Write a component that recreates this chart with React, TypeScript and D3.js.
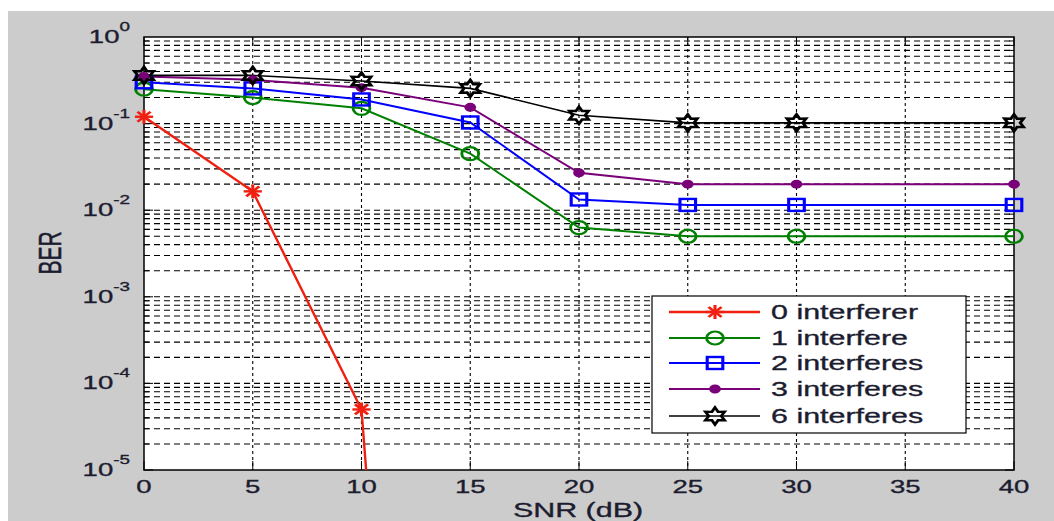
import React from "react";
import { scaleLinear, scaleLog, line, range } from "d3";

const snr = [0, 5, 10, 15, 20, 25, 30, 40];
const xTicks = [0, 5, 10, 15, 20, 25, 30, 35, 40];
const yDecades = [-5, -4, -3, -2, -1, 0];

const ber0 = [0.12, 0.0165, 5e-5, 2e-21];
const ber1 = [0.25, 0.2, 0.15, 0.045, 0.0063, 0.005, 0.005, 0.005];
const ber2 = [0.3, 0.255, 0.19, 0.103, 0.0133, 0.0115, 0.0115, 0.0115];
const ber3 = [0.35, 0.32, 0.26, 0.154, 0.027, 0.02, 0.02, 0.02];
const ber6 = [0.36, 0.36, 0.31, 0.255, 0.125, 0.102, 0.102, 0.102];

const labels = ["0 interferer", "1 interfere", "2 interferes", "3 interferes", "6 interferes"];

const series = [
  { name: labels[0], values: ber0, color: "#f02010", marker: "star", width: 2.4 },
  { name: labels[1], values: ber1, color: "#008000", marker: "circle", width: 2 },
  { name: labels[2], values: ber2, color: "#0000ff", marker: "square", width: 2 },
  { name: labels[3], values: ber3, color: "#7a007a", marker: "dot", width: 2 },
  { name: labels[4], values: ber6, color: "#000000", marker: "hexagram", width: 1.6 },
];

const W = 1054;
const H = 521;
const margin = { left: 144, right: 1014, top: 37, bottom: 470 };
const SX = 1.45; // the picture is stretched sideways
const font = "'Liberation Sans', Arial, sans-serif";
const txt = "#1c1c30";

const hexPath = () => {
  const pts: string[] = [];
  for (let i = 0; i < 12; i++) {
    const r = i % 2 === 0 ? 8.5 : 4.8;
    const a = (Math.PI / 6) * i - Math.PI / 2;
    pts.push(`${(r * Math.cos(a)).toFixed(2)},${(r * Math.sin(a)).toFixed(2)}`);
  }
  return "M" + pts.join("L") + "Z";
};

const Marker = ({ type, color, x, y }) => {
  const t = `translate(${x},${y}) scale(1.3,1)`;
  if (type === "star") {
    return (
      <g transform={t} stroke={color} strokeWidth={2.4}>
        <line x1={-7} y1={0} x2={7} y2={0} />
        <line x1={0} y1={-7} x2={0} y2={7} />
        <line x1={-5} y1={-5} x2={5} y2={5} />
        <line x1={-5} y1={5} x2={5} y2={-5} />
      </g>
    );
  }
  if (type === "circle") {
    return <circle transform={t} r={6.5} fill="none" stroke={color} strokeWidth={2.2} />;
  }
  if (type === "square") {
    return <rect transform={t} x={-6} y={-6} width={12} height={12} fill="none" stroke={color} strokeWidth={2.4} />;
  }
  if (type === "dot") {
    return <circle transform={t} r={4.5} fill={color} />;
  }
  return <path transform={t} d={hexPath()} fill="none" stroke={color} strokeWidth={2.4} />;
};

const SText = ({ x, y, size, anchor = "middle", children, rotate = 0 }) => (
  <text
    transform={`translate(${x},${y}) scale(${SX},1)${rotate ? ` rotate(${rotate})` : ""}`}
    fontFamily={font}
    fontSize={size}
    textAnchor={anchor}
    fill={txt}
    stroke={txt}
    strokeWidth={0.35}
  >
    {children}
  </text>
);

export default function App() {
  const x = scaleLinear().domain([0, 40]).range([margin.left, margin.right]);
  const y = scaleLog().domain([1e-5, 1]).range([margin.bottom, margin.top]);

  const minor: number[] = [];
  yDecades.slice(0, -1).forEach((e) => {
    range(1, 10).forEach((k) => minor.push(k * Math.pow(10, e)));
  });

  const path = line<[number, number]>()
    .x((d) => x(d[0]))
    .y((d) => y(d[1]));

  const legY = [312, 338, 363, 389, 416];

  return (
    <svg width={W} height={H} style={{ position: "absolute", left: 0, top: 0 }}>
      <defs>
        <clipPath id="plot">
          <rect x={margin.left} y={margin.top} width={margin.right - margin.left} height={margin.bottom - margin.top} />
        </clipPath>
      </defs>
      <rect x={0} y={0} width={W} height={H} fill="#ffffff" />
      <rect x={8} y={11} width={W - 8} height={H - 11} fill="#cccccc" />
      <rect
        x={margin.left}
        y={margin.top}
        width={margin.right - margin.left}
        height={margin.bottom - margin.top}
        fill="#ffffff"
      />

      {/* grid */}
      <g stroke="#000" strokeWidth={1.1}>
        {minor
          .filter((v) => v > 1e-5)
          .map((v, i) => (
            <line key={"h" + i} x1={margin.left} x2={margin.right} y1={y(v)} y2={y(v)} strokeDasharray="6,4" />
          ))}
        {xTicks.slice(1, -1).map((t) => (
          <line key={"v" + t} x1={x(t)} x2={x(t)} y1={margin.top} y2={margin.bottom} strokeDasharray="3,3" />
        ))}
      </g>

      {/* ticks */}
      <g stroke="#000" strokeWidth={1}>
        {xTicks.map((t) => (
          <g key={"xt" + t}>
            <line x1={x(t)} x2={x(t)} y1={margin.bottom} y2={margin.bottom - 9} />
            <line x1={x(t)} x2={x(t)} y1={margin.top} y2={margin.top + 9} />
          </g>
        ))}
        {minor.map((v, i) => {
          const len = i % 9 === 0 ? 9 : 5;
          return (
            <g key={"yt" + i}>
              <line x1={margin.left} x2={margin.left + len} y1={y(v)} y2={y(v)} />
              <line x1={margin.right} x2={margin.right - len} y1={y(v)} y2={y(v)} />
            </g>
          );
        })}
      </g>

      <rect
        x={margin.left}
        y={margin.top}
        width={margin.right - margin.left}
        height={margin.bottom - margin.top}
        fill="none"
        stroke="#000"
        strokeWidth={1.5}
      />

      {/* series */}
      <g clipPath="url(#plot)" fill="none">
        {series.map((s) => (
          <path
            key={s.name}
            d={path(s.values.map((v, i) => [snr[i], v] as [number, number])) || ""}
            stroke={s.color}
            strokeWidth={s.width}
          />
        ))}
      </g>
      {series.map((s) =>
        s.values.map((v, i) =>
          v >= 1e-5 ? <Marker key={s.name + i} type={s.marker} color={s.color} x={x(snr[i])} y={y(v)} /> : null
        )
      )}

      {/* tick labels */}
      {xTicks.map((t) => (
        <SText key={"xl" + t} x={x(t)} y={493} size={19}>
          {t}
        </SText>
      ))}
      {yDecades.map((e) => (
        <SText key={"yl" + e} x={130} y={y(Math.pow(10, e)) + 6} size={19} anchor="end">
          <tspan>10</tspan>
          <tspan dy={-12} fontSize={13}>
            {e}
          </tspan>
        </SText>
      ))}

      <SText x={578} y={517} size={21}>
        SNR (dB)
      </SText>
      <SText x={61} y={253} size={21} rotate={-90}>
        BER
      </SText>

      {/* legend */}
      <rect x={652} y={296} width={314} height={137} fill="#ffffff" stroke="#000" strokeWidth={1.2} />
      {series.map((s, i) => (
        <g key={"lg" + i}>
          <line x1={669} x2={760} y1={legY[i]} y2={legY[i]} stroke={s.color} strokeWidth={s.width} />
          <Marker type={s.marker} color={s.color} x={715} y={legY[i]} />
          <SText x={771} y={legY[i] + 7} size={21} anchor="start">
            {s.name}
          </SText>
        </g>
      ))}
    </svg>
  );
}
